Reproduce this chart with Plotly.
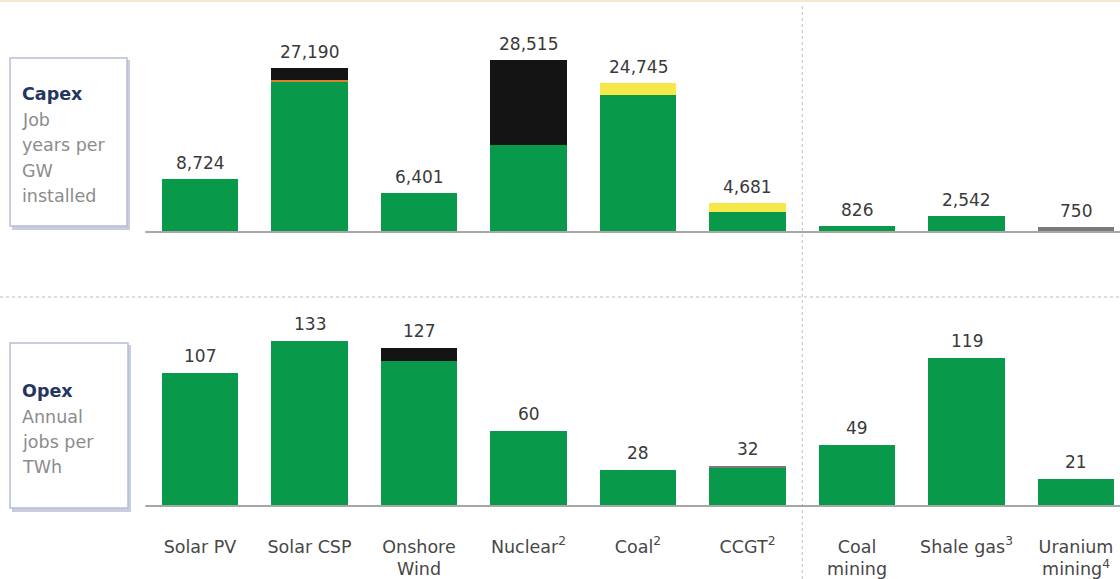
import plotly.graph_objects as go

W, H = 1120, 579

categories = ["Solar PV", "Solar CSP", "Onshore<br>Wind", "Nuclear<sup>2</sup>", "Coal<sup>2</sup>",
              "CCGT<sup>2</sup>", "Coal<br>mining", "Shale gas<sup>3</sup>", "Uranium<br>mining<sup>4</sup>"]

# Capex: job years per GW installed
capex_green = [8724, 24900, 6401, 14300, 22745, 3200, 826, 2542, 0]
capex_orange = [0, 300, 0, 0, 0, 0, 0, 0, 0]
capex_black = [0, 1990, 0, 14215, 0, 0, 0, 0, 0]
capex_yellow = [0, 0, 0, 0, 2000, 1481, 0, 0, 0]
capex_gray = [0, 0, 0, 0, 0, 0, 0, 0, 750]
capex_total = [8724, 27190, 6401, 28515, 24745, 4681, 826, 2542, 750]
capex_labels = ["8,724", "27,190", "6,401", "28,515", "24,745", "4,681", "826", "2,542", "750"]

# Opex: annual jobs per TWh
opex_green = [107, 133, 117, 60, 28, 30.5, 49, 119, 21]
opex_black = [0, 0, 10, 0, 0, 0, 0, 0, 0]
opex_gray = [0, 0, 0, 0, 0, 1.5, 0, 0, 0]
opex_total = [107, 133, 127, 60, 28, 32, 49, 119, 21]
opex_labels = ["107", "133", "127", "60", "28", "32", "49", "119", "21"]

GREEN = "#08994a"
BLACK = "#141414"
YELLOW = "#f7e84a"
ORANGE = "#d9822b"
GRAY = "#7a7a7a"
TXT = "#3a3a3a"
FONT = "DejaVu Sans, Liberation Sans, Arial"

def py(px):
    return 1 - px / H

fig = go.Figure()

def bars(vals, color, xa, ya):
    fig.add_trace(go.Bar(x=categories, y=vals, marker=dict(color=color, line=dict(width=0)),
                         width=0.70, xaxis=xa, yaxis=ya, showlegend=False, hoverinfo="skip"))

for v, c in [(capex_green, GREEN), (capex_orange, ORANGE), (capex_black, BLACK),
             (capex_yellow, YELLOW), (capex_gray, GRAY)]:
    bars(v, c, "x", "y")
for v, c in [(opex_green, GREEN), (opex_black, BLACK), (opex_gray, GRAY)]:
    bars(v, c, "x2", "y2")

# pixel geometry
x_center0, step = 200, 109.5
xr = [-x_center0 / step, (W - x_center0) / step]

top_base, top_top = 231, 40
bot_base, bot_top = 505, 318
top_scale = 6 / 1000   # px per unit
bot_scale = 1.234

common_x = dict(range=xr, domain=[0, 1], showgrid=False, zeroline=False, showline=False,
                type="category", fixedrange=True)
fig.update_layout(
    width=W, height=H, margin=dict(l=0, r=0, t=0, b=0),
    paper_bgcolor="white", plot_bgcolor="rgba(0,0,0,0)",
    barmode="stack", bargap=0.3,
    font=dict(family=FONT, color="#444"),
    xaxis=dict(**common_x, anchor="y", showticklabels=False),
    yaxis=dict(domain=[py(top_base), py(top_top)], range=[0, (top_base - top_top) / top_scale],
               visible=False),
    xaxis2=dict(**common_x, anchor="y2", showticklabels=True, ticks="",
                tickfont=dict(size=17.5, color="#474747", family=FONT),
                ticklabelstandoff=29),
    yaxis2=dict(domain=[py(bot_base), py(bot_top)], range=[0, (bot_base - bot_top) / bot_scale],
                visible=False),
)

shapes = []
# baselines
shapes.append(dict(type="line", xref="x", yref="paper", x0=-0.5, x1=8.6, y0=py(top_base + 1), y1=py(top_base + 1),
                   line=dict(color="#8a8a8a", width=1.5)))
shapes.append(dict(type="line", xref="x2", yref="paper", x0=-0.5, x1=8.6, y0=py(bot_base + 1), y1=py(bot_base + 1),
                   line=dict(color="#8a8a8a", width=1.5)))
# dotted separators
shapes.append(dict(type="line", xref="paper", yref="paper", x0=0, x1=1, y0=py(297), y1=py(297),
                   line=dict(color="#bdbdbd", width=1, dash="dot")))
shapes.append(dict(type="line", xref="x", yref="paper", x0=5.5, x1=5.5, y0=py(6), y1=0,
                   line=dict(color="#bdbdbd", width=1, dash="dot"), layer="below"))
# faint top strip
shapes.append(dict(type="line", xref="paper", yref="paper", x0=0, x1=1, y0=py(1), y1=py(1),
                   line=dict(color="#f1ead0", width=2)))
# label boxes (shadow + box)
for (x0, y0, x1, y1) in [(10, 58, 127, 226), (10, 343, 128, 508)]:
    shapes.append(dict(type="rect", xref="paper", yref="paper", x0=(x0 + 2) / W, x1=(x1 + 3) / W,
                       y0=py(y1 + 4), y1=py(y0 + 2), line=dict(width=0), fillcolor="#c9cede", layer="below"))
    shapes.append(dict(type="rect", xref="paper", yref="paper", x0=x0 / W, x1=x1 / W,
                       y0=py(y1), y1=py(y0), line=dict(color="#b6bdd8", width=1.5), fillcolor="white",
                       layer="below"))
fig.update_layout(shapes=shapes)

annotations = []
# value labels above bars
for cat, tot, lab in zip(categories, capex_total, capex_labels):
    annotations.append(dict(x=cat, y=tot, xref="x", yref="y", text=lab, showarrow=False,
                            xanchor="center", yanchor="bottom", yshift=4,
                            font=dict(size=17, color=TXT, family=FONT)))
for cat, tot, lab in zip(categories, opex_total, opex_labels):
    annotations.append(dict(x=cat, y=tot, xref="x2", yref="y2", text=lab, showarrow=False,
                            xanchor="center", yanchor="bottom", yshift=5,
                            font=dict(size=17, color=TXT, family=FONT)))

def box_text(title, lines, y_first, gap):
    annotations.append(dict(xref="paper", yref="paper", x=20 / W, y=py(y_first), xanchor="left", yanchor="middle",
                            text="<b>" + title + "</b>", showarrow=False,
                            font=dict(size=17.5, color="#24365f", family=FONT)))
    for i, ln in enumerate(lines):
        annotations.append(dict(xref="paper", yref="paper", x=20 / W, y=py(y_first + gap * (i + 1)),
                                xanchor="left", yanchor="middle", text=ln, showarrow=False,
                                font=dict(size=17.5, color="#8c8c8c", family=FONT)))

box_text("Capex", ["Job", "years per", "GW", "installed"], 94, 25.5)
box_text("Opex", ["Annual", "jobs per", "TWh"], 391, 25.5)
fig.update_layout(annotations=annotations)

fig.write_html("out.html")
